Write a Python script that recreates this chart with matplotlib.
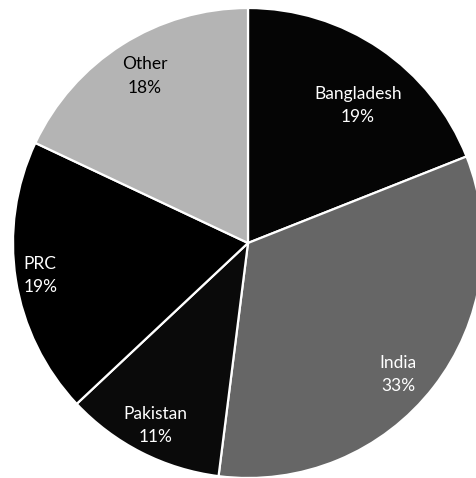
import matplotlib
matplotlib.use("Agg")
import matplotlib.pyplot as plt
import numpy as np

# Share of total by source country
countries = ["Bangladesh", "India", "Pakistan", "PRC", "Other"]
shares = [19, 33, 11, 19, 18]
colors = ["#050505", "#666666", "#0a0a0a", "#000000", "#b4b4b4"]
text_colors = ["white", "white", "white", "white", "black"]
# label placement: fraction of radius and angular nudge (degrees) from wedge middle
label_radius = [0.75, 0.85, 0.87, 0.895, 0.835]
label_nudge = [-4.4, -3.5, 0.0, 0.0, -0.7]

fig = plt.figure(figsize=(4.76, 4.78), dpi=100)
ax = fig.add_axes([0, 0, 1, 1])

wedges, _ = ax.pie(
    shares,
    colors=colors,
    startangle=90,
    counterclock=False,
    radius=1.0,
    wedgeprops=dict(edgecolor="white", linewidth=1.6),
)

for w, name, val, tc, r, nd in zip(wedges, countries, shares, text_colors,
                                   label_radius, label_nudge):
    mid = np.deg2rad((w.theta1 + w.theta2) / 2 + nd)
    ax.text(r * np.cos(mid), r * np.sin(mid), f"{name}\n{val}%",
            ha="center", va="center", color=tc, fontsize=12.5,
            family="Lato", linespacing=1.55)

# Pie slightly clipped on the right and bottom edges
ax.set_xlim(-248 / 235, 228 / 235)
ax.set_ylim(-235 / 235, 243 / 235)
ax.set_aspect("auto")
ax.axis("off")

fig.savefig("out.png", dpi=100)
